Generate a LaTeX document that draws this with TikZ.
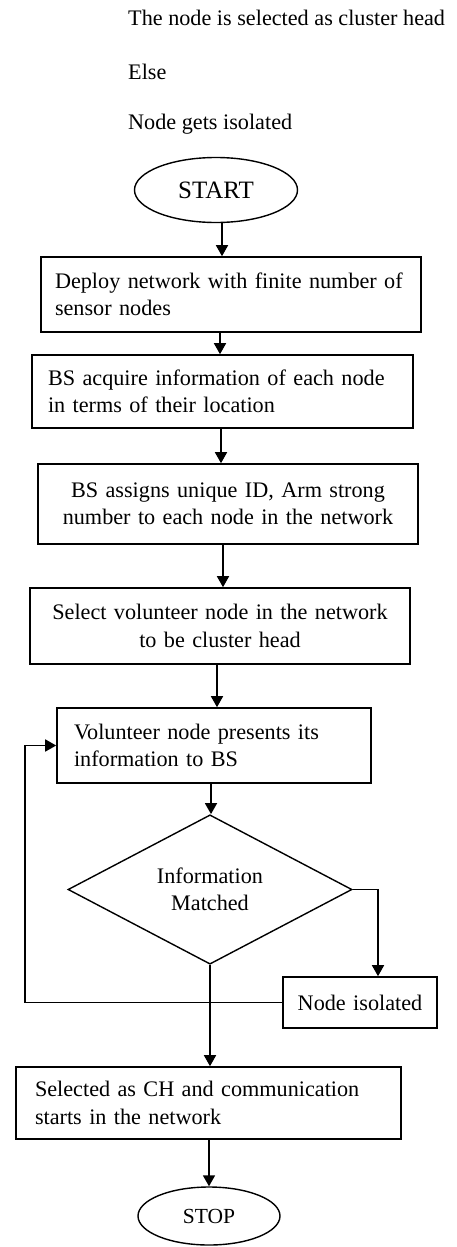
\documentclass[tikz,border=0pt]{standalone}
\usepackage{fontspec}
\setmainfont{Liberation Serif}
\usetikzlibrary{arrows.meta,shapes.geometric}
\newcommand\fsbody{\fontsize{22.2}{27.5}\selectfont}
\begin{document}
\begin{tikzpicture}[x=1pt,y=-1pt,
  box/.style={draw, line width=1.6pt, rectangle, inner ysep=0pt, font=\fsbody},
  lbox/.style={box, align=left},
  cbox/.style={box, align=center},
  term/.style={draw, ellipse, line width=1.4pt, inner sep=0pt},
  arr/.style={line width=1.6pt, -{Triangle[width=12pt,length=11pt]}},
  plain/.style={anchor=west, inner sep=0pt, font=\fsbody}]
\useasboundingbox (0,0) rectangle (457,1247);
% top texts
\node[plain] (t1) at (128,18) {The node is selected as cluster head};
\node[plain] (t2) at (128,72) {Else};
\node[plain] (t3) at (128,124) {Node gets isolated};
% nodes
\node[term, minimum width=163pt, minimum height=65pt, font=\fontsize{25}{28}\selectfont] (start) at (216,190) {START};
\node[lbox, text width=352pt, inner xsep=14pt, minimum height=75pt] (b1) at (231,294.5)
  {Deploy network with finite number of\\sensor nodes};
\node[lbox, text width=349pt, inner xsep=16pt, minimum height=73pt] (b2) at (222.5,391.5)
  {BS acquire information of each node\\in terms of their location};
\node[cbox, text width=360pt, inner xsep=10pt, minimum height=80pt] (b3) at (228,504)
  {BS assigns unique ID, Arm strong\\number to each node in the network};
\node[cbox, text width=360pt, inner xsep=10pt, minimum height=76pt] (b4) at (220,626)
  {Select volunteer node in the network\\to be cluster head};
\node[lbox, text width=280pt, inner xsep=17pt, minimum height=75pt] (b5) at (214,745.5)
  {Volunteer node presents its\\information to BS};
\node[draw, diamond, line width=1.4pt, inner sep=0pt, minimum width=284pt, minimum height=131pt,
  align=center, font=\fsbody] (dia) at (210,889.5) {Information\\Matched};
\node[cbox, text width=134pt, inner xsep=10pt, minimum height=51pt] (iso) at (360,1002.5) {Node isolated};
\node[lbox, text width=347pt, inner xsep=19pt, minimum height=72pt] (sel) at (208.5,1103)
  {Selected as CH and communication\\starts in the network};
\node[term, minimum width=142pt, minimum height=58pt, font=\fontsize{21.5}{24}\selectfont] (stop) at (209,1216) {STOP};
% column coordinates
\coordinate (c1) at (222,0);
\coordinate (c2) at (220,0);
\coordinate (c3) at (221,0);
\coordinate (c4) at (223,0);
\coordinate (c5) at (217,0);
\coordinate (c6) at (211,0);
\coordinate (c8) at (209,0);
\coordinate (cr) at (378,0);
\coordinate (cl) at (25,0);
% connectors
\draw[arr] (start.south -| c1) -- (b1.north -| c1);
\draw[arr] (b1.south -| c2) -- (b2.north -| c2);
\draw[arr] (b2.south -| c3) -- (b3.north -| c3);
\draw[arr] (b3.south -| c4) -- (b4.north -| c4);
\draw[arr] (b4.south -| c5) -- (b5.north -| c5);
\draw[arr] (b5.south -| c6) -- (dia.north -| c6);
\draw[arr] (dia.east) -| (iso.north -| cr);
\draw[arr] (dia.south) -- (sel.north -| dia.south);
\draw[arr] (iso.west) -- (iso.west -| cl) |- (b5.west);
\draw[arr] (sel.south -| c8) -- (stop.north -| c8);
\end{tikzpicture}
\end{document}
